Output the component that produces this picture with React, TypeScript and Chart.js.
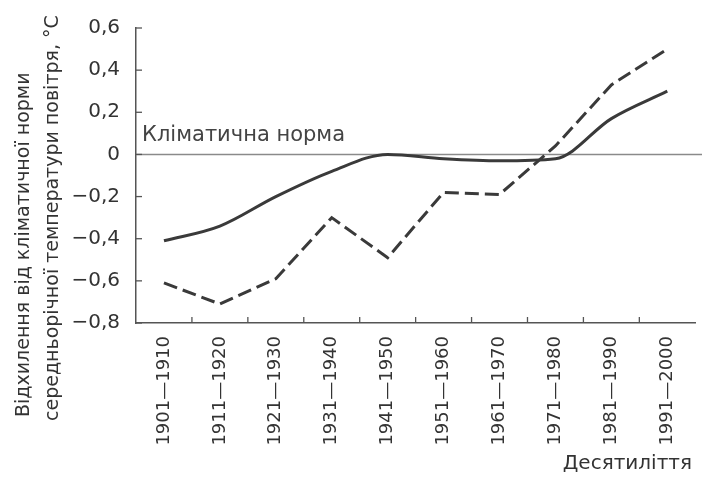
import React, { useEffect, useRef } from "react";
import { Chart, registerables } from "chart.js";

Chart.register(...registerables);

const decades = [
  "1901—1910",
  "1911—1920",
  "1921—1930",
  "1931—1940",
  "1941—1950",
  "1951—1960",
  "1961—1970",
  "1971—1980",
  "1981—1990",
  "1991—2000",
];
const solidSeries = [-0.41, -0.34, -0.2, -0.08, 0.0, -0.02, -0.03, -0.02, 0.17, 0.3];
const dashedSeries = [-0.61, -0.71, -0.59, -0.3, -0.49, -0.18, -0.19, 0.04, 0.33, 0.5];
const yTickValues = [0.6, 0.4, 0.2, 0, -0.2, -0.4, -0.6, -0.8];
const NORM = 0;
const normLabel = "Кліматична норма";
const yTitle = ["Відхилення від кліматичної норми", "середньорічної температури повітря, °С"];
const xTitle = "Десятиліття";

const FONT = "'DejaVu Sans', sans-serif";
const TEXT = "#333";
const LINE = "#3a3a3a";

function fmt(v: number): string {
  if (Math.abs(v) < 1e-9) return "0";
  const s = Math.abs(v).toFixed(1).replace(".", ",");
  return v < 0 ? "−" + s : s;
}

const decorPlugin = {
  id: "decor",
  beforeDatasetsDraw(chart: any) {
    const { ctx, chartArea, scales } = chart;
    const y = scales.y;
    const x = scales.x;
    ctx.save();
    // climate norm line
    const yn = y.getPixelForValue(NORM);
    ctx.strokeStyle = "#8a8a8a";
    ctx.lineWidth = 1.6;
    ctx.beginPath();
    ctx.moveTo(chartArea.left, yn);
    ctx.lineTo(chart.width, yn);
    ctx.stroke();
    // inward ticks on y
    ctx.strokeStyle = "#555";
    ctx.lineWidth = 1.3;
    yTickValues.forEach((v) => {
      const py = y.getPixelForValue(v);
      ctx.beginPath();
      ctx.moveTo(chartArea.left, py);
      ctx.lineTo(chartArea.left + 6, py);
      ctx.stroke();
    });
    // inward ticks on x, between categories
    for (let i = 0; i < decades.length - 1; i++) {
      const px = (x.getPixelForValue(i) + x.getPixelForValue(i + 1)) / 2;
      ctx.beginPath();
      ctx.moveTo(px, chartArea.bottom);
      ctx.lineTo(px, chartArea.bottom - 6);
      ctx.stroke();
    }
    // norm label
    ctx.fillStyle = "#444";
    ctx.font = "21px " + FONT;
    ctx.textAlign = "left";
    ctx.textBaseline = "alphabetic";
    ctx.fillText(normLabel, chartArea.left + 6, yn - 13);
    // x title
    ctx.fillStyle = TEXT;
    ctx.font = "20px " + FONT;
    ctx.textAlign = "right";
    ctx.textBaseline = "middle";
    ctx.fillText(xTitle, chart.width - 10, 464);
    // y title
    ctx.font = "19px " + FONT;
    ctx.textAlign = "left";
    ctx.textBaseline = "middle";
    const centers = [24, 53];
    const starts = [417, 421];
    yTitle.forEach((line, i) => {
      ctx.save();
      ctx.translate(centers[i], starts[i]);
      ctx.rotate(-Math.PI / 2);
      ctx.fillText(line, 0, 0);
      ctx.restore();
    });
    ctx.restore();
  },
};

export default function App() {
  const ref = useRef<HTMLCanvasElement | null>(null);
  useEffect(() => {
    if (!ref.current) return;
    const chart = new Chart(ref.current, {
      type: "line",
      data: {
        labels: decades,
        datasets: [
          {
            data: solidSeries,
            borderColor: LINE,
            borderWidth: 3,
            pointRadius: 0,
            cubicInterpolationMode: "monotone",
            fill: false,
          },
          {
            data: dashedSeries,
            borderColor: LINE,
            borderWidth: 3,
            borderDash: [14, 6],
            pointRadius: 0,
            tension: 0,
            fill: false,
          },
        ],
      },
      options: {
        animation: false,
        responsive: false,
        maintainAspectRatio: false,
        layout: { padding: { top: 20, right: 2, left: 0, bottom: 0 } },
        plugins: { legend: { display: false }, tooltip: { enabled: false } },
        scales: {
          x: {
            type: "category",
            offset: true,
            grid: { drawOnChartArea: false, drawTicks: false },
            border: { display: true, color: "#555", width: 1.5 },
            ticks: {
              autoSkip: false,
              minRotation: 90,
              maxRotation: 90,
              padding: 13,
              color: TEXT,
              font: { family: FONT, size: 18 },
            },
            afterFit: (s: any) => {
              s.height = 479 - 323;
            },
          },
          y: {
            min: -0.8,
            max: 0.6,
            afterBuildTicks: (s: any) => {
              s.ticks = yTickValues.map((v) => ({ value: v }));
            },
            grid: { drawOnChartArea: false, drawTicks: false },
            border: { display: true, color: "#555", width: 1.5 },
            ticks: {
              padding: 16,
              color: TEXT,
              font: { family: FONT, size: 20 },
              callback: (v: any) => fmt(Number(v)),
            },
            afterFit: (s: any) => {
              s.width = 136;
            },
          },
        },
      },
      plugins: [decorPlugin],
    });
    return () => chart.destroy();
  }, []);
  return (
    <div style={{ position: "fixed", left: 0, top: 0, width: 702, height: 479, background: "#fff" }}>
      <canvas ref={ref} width={702} height={479} style={{ display: "block" }} />
    </div>
  );
}
